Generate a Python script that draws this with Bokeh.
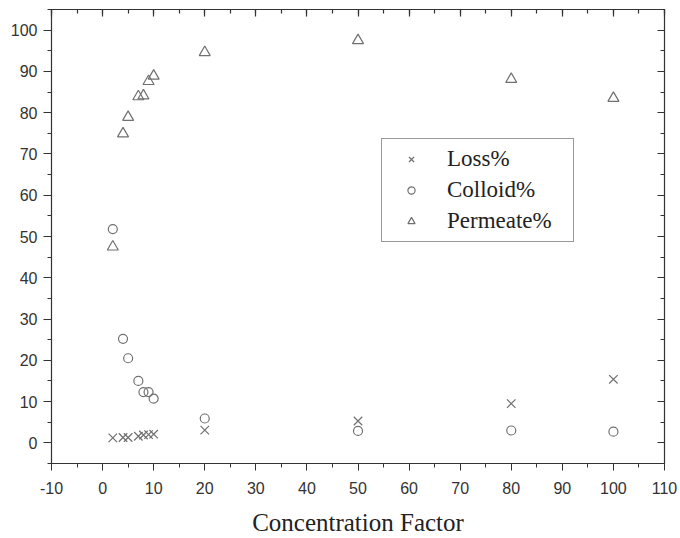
from bokeh.plotting import figure
from bokeh.models import LinearAxis, SingleIntervalTicker, Range1d, Legend, LegendItem
from bokeh.embed import file_html
from bokeh.resources import INLINE

# data
conc_factor = [2, 4, 5, 7, 8, 9, 10, 20, 50, 80, 100]
loss_pct = [1.2, 1.3, 1.3, 1.6, 1.9, 2.0, 2.1, 3.1, 5.3, 9.5, 15.4]
colloid_pct = [51.8, 25.2, 20.5, 15.0, 12.3, 12.3, 10.7, 5.9, 2.9, 3.0, 2.7]
permeate_pct = [47.5, 74.9, 78.9, 83.9, 84.1, 87.6, 88.9, 94.6, 97.5, 88.1, 83.5]
series_names = ["Loss%", "Colloid%", "Permeate%"]
x_title = "Concentration Factor"

AX = "#333333"
MK = "#707070"

p = figure(width=680, height=538, output_backend="svg", toolbar_location=None,
           x_range=Range1d(-10, 110), y_range=Range1d(-5, 105),
           min_border_left=51, min_border_right=16, min_border_top=9, min_border_bottom=73)
p.xgrid.visible = False
p.ygrid.visible = False
p.outline_line_color = AX
p.outline_line_width = 1.2
p.background_fill_color = "white"
p.border_fill_color = "white"

xa = p.xaxis[0]
xa.ticker = SingleIntervalTicker(interval=10, num_minor_ticks=2)
ya = p.yaxis[0]
ya.ticker = SingleIntervalTicker(interval=10, num_minor_ticks=2)
for ax, tout, tmin in ((xa, 7, 4), (ya, 8, 4)):
    ax.axis_line_color = AX
    ax.major_tick_line_color = AX
    ax.minor_tick_line_color = AX
    ax.major_tick_out = tout
    ax.major_tick_in = 0
    ax.minor_tick_out = tmin
    ax.minor_tick_in = 0
    ax.major_label_text_font = "Liberation Sans"
    ax.major_label_text_font_size = "16px"
    ax.major_label_text_color = AX
xa.major_label_overrides = {-10: "-10"}
xa.major_label_standoff = 11
ya.major_label_standoff = 6
xa.axis_label = x_title
xa.axis_label_text_font = "Liberation Serif"
xa.axis_label_text_font_size = "25px"
xa.axis_label_text_font_style = "normal"
xa.axis_label_text_color = "#222222"
xa.axis_label_standoff = 12

# tick-only mirror axes on top and right (ticks pointing inward, no labels)
top = LinearAxis(ticker=SingleIntervalTicker(interval=10, num_minor_ticks=2))
right = LinearAxis(ticker=SingleIntervalTicker(interval=10, num_minor_ticks=2))
for ax in (top, right):
    ax.axis_line_color = AX
    ax.major_tick_line_color = AX
    ax.minor_tick_line_color = AX
    ax.major_tick_line_width = 1.2
    ax.minor_tick_line_width = 1.2
    ax.major_tick_out = 0
    ax.minor_tick_out = 0
    ax.major_tick_in = 7
    ax.minor_tick_in = 4
    ax.major_label_text_color = None
    ax.major_label_text_font_size = "0px"
    ax.major_label_standoff = 0
p.add_layout(top, "above")
p.add_layout(right, "right")

r_loss = p.scatter(conc_factor, loss_pct, marker="x", size=12, line_color=MK, line_width=1.2)
r_col = p.scatter(conc_factor, colloid_pct, marker="circle", size=9, line_color=MK,
                  fill_color=None, line_width=1.2)
r_per = p.scatter(conc_factor, permeate_pct, marker="triangle", size=11, line_color=MK,
                  fill_color=None, line_width=1.2)

legend = Legend(items=[LegendItem(label=series_names[0], renderers=[r_loss]),
                       LegendItem(label=series_names[1], renderers=[r_col]),
                       LegendItem(label=series_names[2], renderers=[r_per])],
                location=(330, 221))
legend.label_text_font = "Liberation Serif"
legend.label_text_font_size = "23px"
legend.label_text_color = "#222222"
legend.glyph_width = 44
legend.glyph_height = 18
legend.label_standoff = 14
legend.label_height = 24
legend.label_width = 119
legend.spacing = 5
legend.padding = 7
legend.margin = 0
legend.border_line_color = AX
legend.border_line_width = 1
legend.background_fill_color = "white"
legend.background_fill_alpha = 1
p.add_layout(legend, "center")

open("out.html", "w").write(file_html(p, INLINE))
